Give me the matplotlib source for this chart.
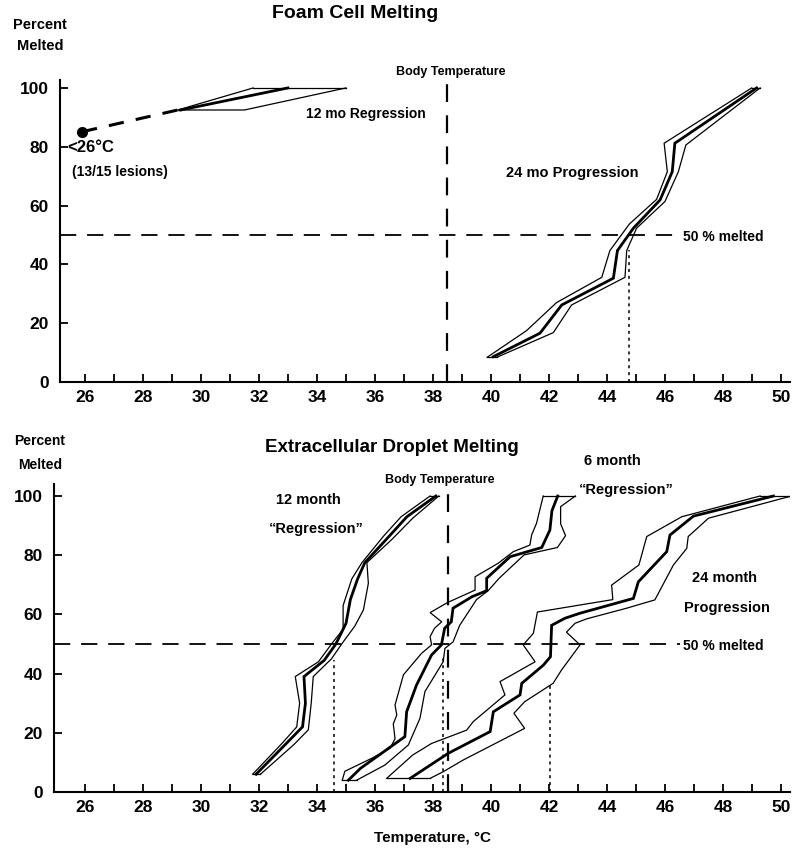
import numpy as np
import matplotlib
matplotlib.use('Agg')
import matplotlib.pyplot as plt

plt.rcParams['font.family'] = ['Liberation Sans', 'DejaVu Sans']
plt.rcParams['font.weight'] = 'bold'

# ---- 数据 (温度 °C, 熔化百分比 %) ----
body_temp = 38.5
x_ticks = list(range(26, 51))
x_labels = [str(t) if t % 2 == 0 else '' for t in x_ticks]
y_ticks = [0, 20, 40, 60, 80, 100]

# Foam cell melting: 12 mo regression
foam_reg12_left = [(29.2, 92.5), (31.8, 100)]
foam_reg12_mid = [(29.3, 92.5), (33.0, 100)]
foam_reg12_right = [(29.3, 92.5), (31.5, 92.5), (35.0, 100)]
foam_low_point = (25.9, 85.1)  # <26 °C, 13/15 lesions

# Foam cell melting: 24 mo progression
foam_prog24_left = [(39.87, 8.4), (41.23, 17.5), (42.26, 27.0), (43.82, 35.6), (44.10, 44.7),
                    (44.77, 53.7), (45.71, 62.1), (46.08, 71.5), (45.97, 81.2), (48.99, 100)]
foam_prog24_mid = [(40.08, 8.6), (41.69, 16.6), (42.44, 26.2), (44.22, 35.3), (44.36, 44.7),
                   (44.91, 52.3), (45.83, 61.9), (46.25, 71.5), (46.34, 81.2), (49.16, 100)]
foam_prog24_right = [(40.20, 8.4), (42.15, 16.8), (42.78, 26.2), (44.62, 35.6), (44.68, 44.7),
                     (45.02, 52.3), (46.00, 61.4), (46.46, 71.5), (46.72, 80.6), (49.28, 100)]
foam_t50 = 44.75

# Extracellular droplet melting: 12 month regression
drop12_left = [(31.78, 6), (32.8, 16.5), (33.3, 22), (33.4, 30), (33.25, 39), (34.05, 44),
               (34.5, 50), (34.9, 55), (34.9, 63), (35.2, 72), (35.55, 77.5), (36.3, 86.5),
               (36.9, 93), (37.9, 100)]
drop12_mid = [(31.9, 6), (33.0, 17), (33.5, 22), (33.6, 30), (33.55, 39), (34.25, 44.5),
              (34.65, 50), (35.0, 57), (35.15, 65), (35.4, 72), (35.65, 77.5), (36.45, 86),
              (37.1, 93), (38.1, 100)]
drop12_right = [(32.05, 6), (33.2, 16), (33.7, 21), (33.8, 30), (33.87, 39), (34.5, 45),
                (34.85, 50), (35.3, 56), (35.6, 61.5), (35.77, 70.5), (35.72, 77.5),
                (36.6, 85.5), (37.3, 92.5), (38.2, 100)]
drop12_t50 = 34.6

# Extracellular droplet melting: 6 month regression
drop6_left = [(34.87, 4), (34.96, 7), (35.89, 11.4), (36.52, 14.8), (36.69, 18), (36.63, 23),
              (36.75, 26), (36.69, 29.4), (36.98, 39.6), (37.6, 46.8), (37.95, 49.7),
              (37.9, 52.5), (38.05, 55.3), (38.3, 57.5), (37.9, 60.6), (38.5, 64),
              (39.45, 68.2), (39.45, 72.7), (40.25, 77.3), (40.77, 81.2), (41.34, 83.4),
              (41.40, 86.8), (41.57, 90.8), (41.8, 100)]
drop6_mid = [(35.08, 4), (35.5, 8), (37.03, 18.7), (37.09, 27.1), (37.43, 36.1), (37.95, 46.3),
             (38.29, 49.7), (38.40, 55.3), (38.63, 57.5), (38.69, 62.1), (39.35, 66),
             (39.85, 68), (39.85, 72.2), (40.66, 79.5), (41.75, 82.6), (42.03, 88.5),
             (42.1, 95), (42.3, 100)]
drop6_right = [(35.37, 4), (36.34, 9.1), (37.15, 15.9), (37.55, 24.9), (37.72, 33.9),
               (38.35, 44), (38.41, 48.5), (38.69, 50.7), (38.92, 56.3), (39.3, 62),
               (39.5, 65), (39.9, 68), (40.28, 72.2), (41.14, 80.1), (42.29, 82.6),
               (42.57, 86.6), (42.40, 90.6), (42.40, 96.4), (42.91, 100)]
drop6_t50 = 38.35

# Extracellular droplet melting: 24 month progression
drop24_left = [(36.40, 4.6), (37.3, 12.5), (37.95, 16.4), (39.16, 20.9), (39.39, 23.8),
               (40.48, 32.8), (40.31, 37.3), (40.71, 39.5), (41.52, 44), (41.11, 49.7),
               (41.46, 53.6), (41.6, 60.8), (44.2, 65), (44.16, 69.9), (45.1, 76.7),
               (45.37, 86.3), (46.58, 93), (49.28, 100)]
drop24_mid = [(37.21, 4.6), (38.53, 13.1), (39.97, 20.4), (40.08, 27.1), (41.0, 32.8),
              (41.06, 36.7), (41.81, 42.9), (42.05, 45.7), (42.09, 56.3), (42.55, 58.7),
              (43.07, 60.4), (44.91, 65.4), (45.08, 71), (46.06, 81.2), (46.17, 86.8),
              (46.98, 93.2), (49.74, 100)]
drop24_right = [(37.9, 4.6), (38.36, 6.9), (39.04, 10.8), (41.16, 21.5), (40.79, 26.6),
                (41.16, 30.5), (42.14, 36.7), (42.43, 41.2), (43.07, 49.7), (42.6, 54),
                (42.9, 57), (43.3, 58.5), (44.68, 62.1), (45.65, 64.9), (46.29, 76.7),
                (46.75, 82.3), (46.8, 86.3), (47.5, 92.5), (50.36, 100)]
drop24_t50 = 42.05


def draw_band(ax, left, mid, right):
    for curve, lw in ((left, 0.9), (right, 0.9), (mid, 2.0)):
        t, p = zip(*curve)
        ax.plot(t, p, color='black', lw=lw, solid_joinstyle='miter')
    # 首尾连接
    for i in (0, -1):
        ax.plot([left[i][0], right[i][0]], [left[i][1], right[i][1]], color='black', lw=0.9)


def style_axes(ax, x0, y1):
    ax.set_xlim(x0, 50.31)
    ax.set_ylim(0, y1)
    ax.spines['top'].set_visible(False)
    ax.spines['right'].set_visible(False)
    ax.spines['left'].set_linewidth(1.5)
    ax.spines['bottom'].set_linewidth(1.5)
    ax.set_xticks(x_ticks)
    ax.set_xticklabels(x_labels)
    ax.set_yticks(y_ticks)
    ax.tick_params(direction='in', length=6, width=1.3, labelsize=12.5, pad=6)
    ax.tick_params(axis='y', pad=8)
    for lab in ax.get_xticklabels() + ax.get_yticklabels():
        lab.set_fontweight('bold')


W, H = 792, 848
fig = plt.figure(figsize=(W / 100, H / 100), dpi=100)


def px(x, y):
    return x / W, 1 - y / H


# ---------------- Foam Cell Melting ----------------
ax1 = fig.add_axes([60 / W, 1 - 382 / H, 730 / W, 302 / H])
style_axes(ax1, 25.14, 102.7)
draw_band(ax1, foam_reg12_left, foam_reg12_mid, foam_reg12_right)
draw_band(ax1, foam_prog24_left, foam_prog24_mid, foam_prog24_right)
ax1.plot([foam_low_point[0], foam_reg12_left[0][0]], [foam_low_point[1], foam_reg12_left[0][1]],
         color='black', lw=2.2, dashes=(5, 4))
ax1.plot(*foam_low_point, 'o', color='black', ms=7)
ax1.plot([body_temp, body_temp], [0, 102.2], color='black', lw=1.6, dashes=(8, 6), clip_on=False)
ax1.plot([25.14, 46.4], [50, 50], color='black', lw=1.3, dashes=(9, 6))
ax1.plot([foam_t50, foam_t50], [0, 45], color='black', lw=1.1, dashes=(2, 2.5))

fig.text(*px(355, 13), 'Foam Cell Melting', ha='center', va='center', fontsize=14, fontweight='bold')
fig.text(*px(40, 25), 'Percent', ha='center', va='center', fontsize=10.5, fontweight='bold')
fig.text(*px(40, 46), 'Melted', ha='center', va='center', fontsize=10.5, fontweight='bold')
fig.text(*px(451, 72), 'Body Temperature', ha='center', va='center', fontsize=9, fontweight='bold')
fig.text(*px(366, 114), '12 mo Regression', ha='center', va='center', fontsize=10, fontweight='bold')
fig.text(*px(67, 148), '<26°C', ha='left', va='center', fontsize=12, fontweight='bold')
fig.text(*px(72, 172), '(13/15 lesions)', ha='left', va='center', fontsize=10, fontweight='bold')
fig.text(*px(572, 173), '24 mo Progression', ha='center', va='center', fontsize=10.5, fontweight='bold')
fig.text(*px(683, 237), '50 % melted', ha='left', va='center', fontsize=10, fontweight='bold')

# ---------------- Extracellular Droplet Melting ----------------
ax2 = fig.add_axes([54 / W, 1 - 792 / H, 736 / W, 308 / H])
style_axes(ax2, 24.93, 104.05)
draw_band(ax2, drop12_left, drop12_mid, drop12_right)
draw_band(ax2, drop6_left, drop6_mid, drop6_right)
draw_band(ax2, drop24_left, drop24_mid, drop24_right)
ax2.plot([body_temp, body_temp], [0, 102], color='black', lw=1.6, dashes=(8, 6), clip_on=False)
ax2.plot([24.93, 46.5], [50, 50], color='black', lw=1.3, dashes=(9, 6))
ax2.plot([drop12_t50, drop12_t50], [0, 44.5], color='black', lw=1.1, dashes=(2, 2.5))
ax2.plot([drop6_t50, drop6_t50], [0, 46], color='black', lw=1.1, dashes=(2, 2.5))
ax2.plot([drop24_t50, drop24_t50], [0, 37], color='black', lw=1.1, dashes=(2, 2.5))

fig.text(*px(392, 448), 'Extracellular Droplet Melting', ha='center', va='center', fontsize=13.5,
         fontweight='bold')
fig.text(*px(40, 441), 'Percent', ha='center', va='center', fontsize=10, fontweight='bold')
fig.text(*px(40, 465), 'Melted', ha='center', va='center', fontsize=10, fontweight='bold')
fig.text(*px(440, 480), 'Body Temperature', ha='center', va='center', fontsize=9, fontweight='bold')
fig.text(*px(308, 500), '12 month', ha='center', va='center', fontsize=10.5, fontweight='bold')
fig.text(*px(316, 529), '“Regression”', ha='center', va='center', fontsize=10.5, fontweight='bold')
fig.text(*px(612, 461), '6 month', ha='center', va='center', fontsize=10.5, fontweight='bold')
fig.text(*px(626, 490), '“Regression”', ha='center', va='center', fontsize=10.5, fontweight='bold')
fig.text(*px(725, 578), '24 month', ha='center', va='center', fontsize=10.5, fontweight='bold')
fig.text(*px(727, 608), 'Progression', ha='center', va='center', fontsize=10.5, fontweight='bold')
fig.text(*px(683, 646), '50 % melted', ha='left', va='center', fontsize=10, fontweight='bold')
fig.text(*px(433, 838), 'Temperature, °C', ha='center', va='center', fontsize=11, fontweight='bold')

fig.savefig('out.png', dpi=100)
